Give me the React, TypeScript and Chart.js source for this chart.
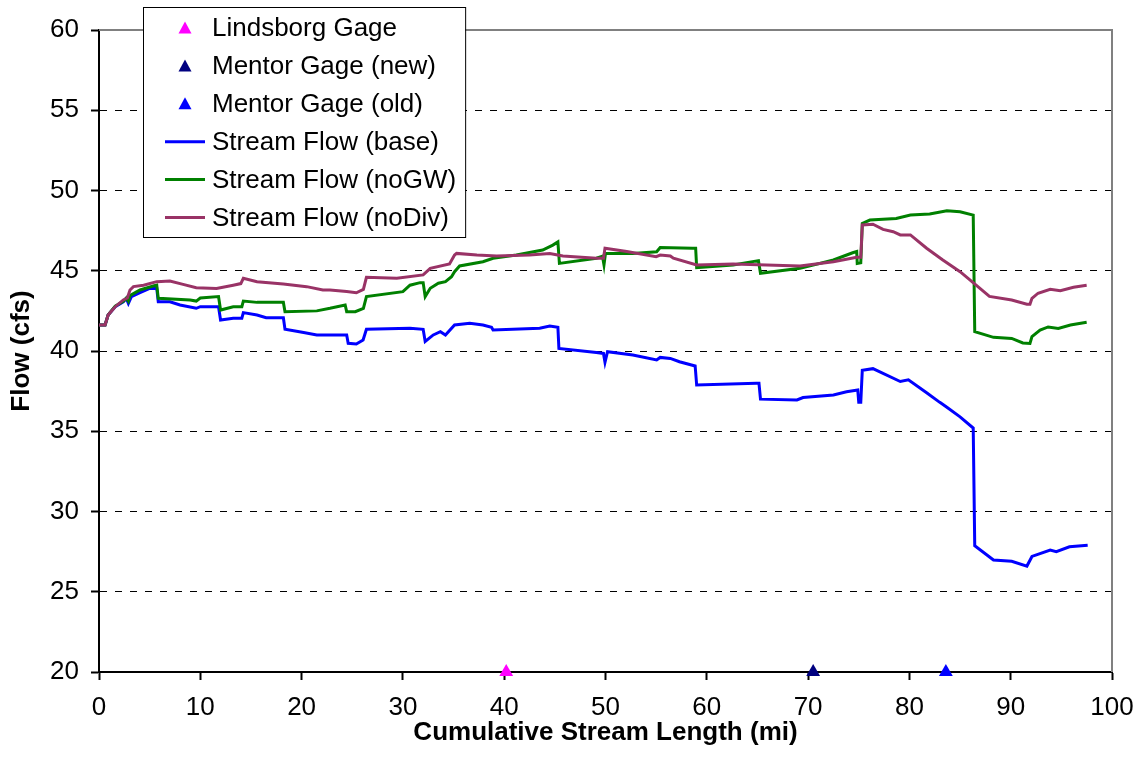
import React, { useEffect, useRef } from 'react';
import { Chart, registerables } from 'chart.js';

Chart.register(...registerables);

// ---- data ----
const gageNames = ['Lindsborg Gage', 'Mentor Gage (new)', 'Mentor Gage (old)'];
const gageMiles = [40.2, 70.5, 83.6];
const gageFlow = [20, 20, 20];
const gageColors = ['#FF00FF', '#000080', '#0000FF'];

const seriesNames = ['Stream Flow (base)', 'Stream Flow (noGW)', 'Stream Flow (noDiv)'];
const seriesColors = ['#0000FF', '#008000', '#993366'];

// [mile, cfs]
const baseFlow: [number, number][] = [
  [0, 41.62], [0.6, 41.62], [0.9, 42.24], [1.6, 42.76], [2.4, 43.07], [2.7, 43.28], [2.9, 42.97],
  [3.2, 43.39], [4.05, 43.63], [5.0, 43.9], [5.7, 43.9], [5.85, 43.07], [7.0, 43.07], [8.0, 42.87],
  [9.6, 42.66], [10.0, 42.76], [11.8, 42.76], [12.0, 41.93], [13.25, 42.04], [14.1, 42.04],
  [14.25, 42.39], [15.6, 42.24], [16.5, 42.07], [18.2, 42.07], [18.36, 41.35], [20.2, 41.15],
  [21.5, 41.0], [24.45, 41.0], [24.6, 40.48], [25.4, 40.44], [26.07, 40.69], [26.4, 41.35],
  [30.7, 41.42], [32.0, 41.35], [32.2, 40.59], [33.0, 41.0], [33.7, 41.2], [34.2, 41.0],
  [35.1, 41.62], [36.6, 41.73], [37.9, 41.62], [38.75, 41.48], [38.9, 41.31], [43.5, 41.42],
  [44.5, 41.56], [45.3, 41.48], [45.4, 40.16], [49.1, 39.9], [49.8, 39.85], [49.95, 39.3],
  [50.2, 39.96], [52.7, 39.75], [55.05, 39.44], [55.4, 39.6], [56.4, 39.54], [57.3, 39.33],
  [58.85, 39.07], [59.0, 37.88], [64.9, 37.99], [65.15, 37.99], [65.3, 37.0], [68.9, 36.95],
  [69.5, 37.1], [72.5, 37.26], [73.8, 37.46], [74.9, 37.57], [75.0, 36.8], [75.2, 36.8],
  [75.35, 38.8], [76.4, 38.9], [79.1, 38.1], [79.9, 38.2], [81.7, 37.4], [83.0, 36.8],
  [83.7, 36.5], [85.0, 35.9], [86.3, 35.2], [86.45, 27.87], [88.3, 26.98], [90.1, 26.9],
  [91.6, 26.6], [92.1, 27.2], [93.9, 27.6], [94.5, 27.5], [95.8, 27.8], [97.6, 27.9],
];

const noGWFlow: [number, number][] = [
  [0, 41.62], [0.6, 41.62], [0.9, 42.24], [1.6, 42.8], [2.4, 43.1], [2.7, 43.3], [2.9, 43.1],
  [3.06, 43.45], [4.05, 43.8], [5.36, 44.05], [5.7, 44.1], [5.85, 43.28], [9.0, 43.18],
  [9.6, 43.11], [10.0, 43.3], [11.8, 43.39], [12.0, 42.55], [13.25, 42.76], [14.1, 42.76],
  [14.25, 43.11], [15.6, 43.03], [18.2, 43.03], [18.36, 42.45], [21.5, 42.5], [22.8, 42.66],
  [24.3, 42.87], [24.45, 42.45], [25.3, 42.45], [26.1, 42.66], [26.4, 43.39], [30.0, 43.7],
  [30.7, 44.1], [31.7, 44.26], [32.0, 44.26], [32.2, 43.39], [32.7, 43.91], [33.5, 44.22],
  [34.2, 44.32], [34.8, 44.63], [35.1, 44.94], [35.6, 45.3], [37.9, 45.56], [38.9, 45.78],
  [41.2, 45.98], [43.8, 46.29], [44.8, 46.6], [45.3, 46.8], [45.45, 45.46], [49.1, 45.78],
  [49.7, 45.9], [49.85, 45.36], [50.0, 46.08], [52.7, 46.08], [55.05, 46.18], [55.4, 46.45],
  [58.6, 46.4], [58.9, 46.4], [59.0, 45.2], [62.6, 45.36], [65.1, 45.63], [65.3, 44.84],
  [69.2, 45.15], [72.5, 45.67], [74.4, 46.12], [74.8, 46.2], [74.85, 45.46], [75.2, 45.5],
  [75.35, 47.95], [76.1, 48.16], [78.7, 48.26], [80.1, 48.47], [82.0, 48.53], [83.7, 48.74],
  [85.0, 48.68], [86.3, 48.47], [86.45, 41.2], [88.3, 40.85], [90.1, 40.78], [91.2, 40.5],
  [91.9, 40.47], [92.1, 40.9], [92.9, 41.3], [93.7, 41.5], [94.7, 41.41], [95.9, 41.62],
  [97.5, 41.79],
];

const noDivFlow: [number, number][] = [
  [0, 41.62], [0.6, 41.62], [0.9, 42.24], [1.6, 42.76], [2.4, 43.18], [2.8, 43.3], [3.06, 43.8],
  [3.4, 44.01], [4.4, 44.1], [5.7, 44.32], [7.0, 44.36], [8.3, 44.15], [9.6, 43.94],
  [11.6, 43.9], [13.25, 44.1], [14.0, 44.2], [14.25, 44.53], [15.6, 44.32], [18.2, 44.17],
  [20.5, 44.01], [22.1, 43.8], [22.8, 43.8], [24.45, 43.7], [25.4, 43.63], [26.1, 43.84],
  [26.4, 44.59], [29.4, 44.53], [32.0, 44.74], [32.7, 45.15], [34.6, 45.42], [35.1, 45.98],
  [35.3, 46.08], [37.3, 45.98], [39.25, 45.92], [42.5, 45.98], [44.5, 46.08], [45.8, 45.92],
  [49.1, 45.78], [49.8, 45.78], [49.95, 46.4], [52.1, 46.2], [55.0, 45.88], [55.4, 45.98],
  [56.4, 45.92], [56.7, 45.78], [59.0, 45.36], [62.6, 45.42], [69.2, 45.3], [72.5, 45.56],
  [74.8, 45.84], [75.2, 45.84], [75.35, 47.85], [76.4, 47.9], [77.4, 47.58], [78.4, 47.43],
  [79.1, 47.23], [80.1, 47.23], [81.7, 46.4], [83.3, 45.67], [85.0, 44.94], [86.0, 44.42],
  [87.9, 43.4], [90.1, 43.18], [91.6, 42.91], [91.9, 42.91], [92.1, 43.28], [92.7, 43.6],
  [93.9, 43.84], [94.9, 43.76], [96.2, 43.97], [97.5, 44.1],
];

const seriesData = [baseFlow, noGWFlow, noDivFlow];

const xMin = 0, xMax = 100, xStep = 10;
const yMin = 20, yMax = 60, yStep = 5;
const xTitle = 'Cumulative Stream Length (mi)';
const yTitle = 'Flow (cfs)';

const FONT = '"Liberation Sans", Arial, Helvetica, sans-serif';

const frameLegendPlugin = {
  id: 'frameLegend',
  afterDraw(chart: any) {
    const ctx = chart.ctx as CanvasRenderingContext2D;
    const { top, right, left, bottom } = chart.chartArea;
    ctx.save();
    // gray top/right frame
    ctx.strokeStyle = '#808080';
    ctx.lineWidth = 2;
    ctx.beginPath();
    ctx.moveTo(left, top);
    ctx.lineTo(right, top);
    ctx.lineTo(right, bottom);
    ctx.stroke();

    // legend box
    const ds = chart.data.datasets;
    ctx.font = `26px ${FONT}`;
    const bx = 143, by = 7, textX = 212, firstY = 28, rowH = 37.9;
    const maxW = Math.max(...ds.map((d: any) => ctx.measureText(d.label).width));
    const bw = textX + maxW + 9 - bx;
    const bh = 230;
    ctx.fillStyle = '#ffffff';
    ctx.fillRect(bx, by, bw, bh);
    ctx.strokeStyle = '#000000';
    ctx.lineWidth = 1;
    ctx.strokeRect(bx + 0.5, by + 0.5, bw, bh);

    ds.forEach((d: any, i: number) => {
      const cy = firstY + i * rowH;
      if (d.showLine) {
        ctx.strokeStyle = d.borderColor;
        ctx.lineWidth = 3;
        ctx.beginPath();
        ctx.moveTo(165, cy);
        ctx.lineTo(205, cy);
        ctx.stroke();
      } else {
        ctx.fillStyle = d.backgroundColor;
        ctx.beginPath();
        ctx.moveTo(185, cy - 6.5);
        ctx.lineTo(191.5, cy + 5.5);
        ctx.lineTo(178.5, cy + 5.5);
        ctx.closePath();
        ctx.fill();
      }
      ctx.fillStyle = '#000';
      ctx.textBaseline = 'middle';
      ctx.textAlign = 'left';
      ctx.fillText(d.label, textX, cy + 1);
    });
    ctx.restore();
  },
};

export default function App() {
  const canvasRef = useRef<HTMLCanvasElement | null>(null);

  useEffect(() => {
    if (!canvasRef.current) return;

    const gageSets = gageNames.map((name, i) => ({
      label: name,
      data: [{ x: gageMiles[i], y: gageFlow[i] }],
      showLine: false,
      pointStyle: 'triangle',
      pointRadius: 8,
      pointHoverRadius: 8,
      backgroundColor: gageColors[i],
      borderColor: gageColors[i],
      borderWidth: 0,
      clip: false as any,
      order: 0,
    }));

    const lineSets = seriesNames.map((name, i) => ({
      label: name,
      data: seriesData[i].map(([x, y]) => ({ x, y })),
      showLine: true,
      borderColor: seriesColors[i],
      backgroundColor: seriesColors[i],
      borderWidth: 3,
      pointRadius: 0,
      pointHoverRadius: 0,
      tension: 0,
      fill: false,
      order: 3 - i,
    }));

    const chart = new Chart(canvasRef.current, {
      type: 'scatter',
      data: { datasets: [...gageSets, ...lineSets] as any },
      options: {
        animation: false,
        responsive: false,
        maintainAspectRatio: false,
        layout: { padding: { left: 0, top: 30, right: 29, bottom: 0 } },
        plugins: {
          legend: { display: false },
          tooltip: { enabled: false },
        },
        scales: {
          x: {
            type: 'linear',
            min: xMin,
            max: xMax,
            afterFit: (s: any) => {
              s.height = 86;
              s.paddingLeft = 0;
              s.paddingRight = 0;
            },
            ticks: {
              stepSize: xStep,
              color: '#000',
              font: { family: FONT, size: 26 },
              padding: 12,
              maxRotation: 0,
            },
            grid: {
              drawOnChartArea: false,
              drawTicks: true,
              tickLength: 8,
              tickColor: '#000',
              tickWidth: 2,
              color: '#000',
            },
            border: { display: true, color: '#000', width: 2 },
            title: {
              display: true,
              text: xTitle,
              color: '#000',
              font: { family: FONT, size: 26, weight: 'bold' },
              padding: { top: 0, bottom: 10 },
            },
          },
          y: {
            type: 'linear',
            min: yMin,
            max: yMax,
            afterFit: (s: any) => {
              s.width = 99;
              s.paddingTop = 0;
              s.paddingBottom = 0;
            },
            ticks: {
              stepSize: yStep,
              color: '#000',
              font: { family: FONT, size: 26 },
              padding: 12,
            },
            grid: {
              drawOnChartArea: true,
              drawTicks: true,
              tickLength: 8,
              tickWidth: 2,
              tickColor: '#000',
              lineWidth: 1,
              color: (c: any) =>
                c.tick && (c.tick.value === yMin || c.tick.value === yMax) ? 'rgba(0,0,0,0)' : '#000',
            },
            border: { display: true, color: '#000', width: 2, dash: [7, 8] },
            title: {
              display: true,
              text: yTitle,
              color: '#000',
              font: { family: FONT, size: 26, weight: 'bold' },
              padding: { top: 6, bottom: 0 },
            },
          },
        },
      } as any,
      plugins: [frameLegendPlugin],
    });

    return () => chart.destroy();
  }, []);

  return (
    <div style={{ position: 'fixed', left: 0, top: 0, width: 1141, height: 758, background: '#fff' }}>
      <canvas ref={canvasRef} width={1141} height={758} style={{ width: 1141, height: 758, display: 'block' }} />
    </div>
  );
}
